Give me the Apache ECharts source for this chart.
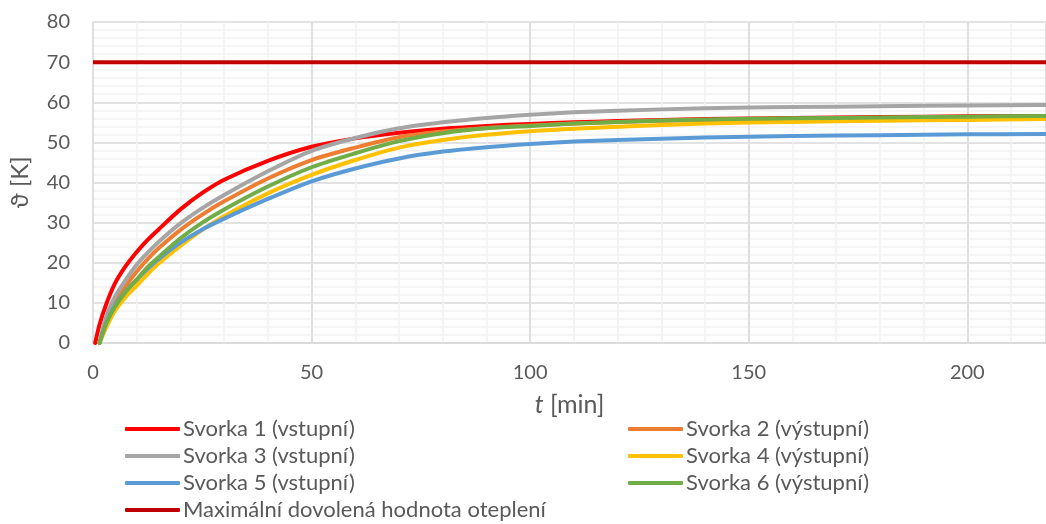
<!DOCTYPE html>
<html>
<head>
<meta charset="utf-8">
<script src="https://cdn.jsdelivr.net/npm/echarts@6/dist/echarts.min.js"></script>
<style>html,body{margin:0;padding:0;background:#fff}#c{width:1046px;height:524px}</style>
</head>
<body>
<div id="c"></div>
<script>
// time in minutes
const time    = [0.5, 1.5, 3,   5,    7.5,  10,   12.5, 15,   20,   25,   30,   40,   50,   60,   70,   80,   90,   100,  110,  120,  140,  160,  180,  200,  218];
const svorka1 = [0,   4.6, 9.6, 14.8, 19.2, 22.7, 25.7, 28.3, 33.3, 37.4, 40.7, 45.4, 48.9, 51.0, 52.4, 53.4, 54.1, 54.6, 55.0, 55.3, 55.8, 56.1, 56.3, 56.5, 56.6];
const svorka2 = [null, 0,  5.5, 10.0, 14.2, 17.8, 20.9, 23.6, 28.2, 32.0, 35.3, 41.0, 45.6, 48.7, 51.3, 52.7, 53.6, 54.2, 54.7, 55.1, 55.6, 55.9, 56.1, 56.3, 56.5];
const svorka3 = [null, 0,  6.5, 11.5, 15.8, 19.5, 22.5, 25.2, 29.8, 33.6, 36.9, 42.8, 47.9, 51.1, 53.5, 55.0, 56.1, 56.9, 57.5, 57.9, 58.5, 58.8, 59.0, 59.2, 59.3];
const svorka4 = [null, 0,  3.8, 8.0,  11.5, 14.3, 17.2, 19.8, 24.2, 28.2, 31.6, 37.3, 41.9, 45.6, 48.7, 50.6, 51.9, 52.8, 53.4, 53.9, 54.7, 55.1, 55.4, 55.6, 55.8];
const svorka5 = [null, 0,  5.0, 9.3,  12.9, 15.8, 18.5, 20.9, 25.0, 28.3, 31.0, 35.9, 40.3, 43.5, 46.0, 47.7, 48.8, 49.6, 50.2, 50.6, 51.2, 51.6, 51.8, 52.0, 52.1];
const svorka6 = [null, 0,  4.8, 9.0,  12.8, 15.8, 18.9, 21.4, 26.1, 30.0, 33.3, 39.0, 43.8, 47.3, 50.3, 52.3, 53.5, 54.1, 54.7, 55.1, 55.7, 56.0, 56.2, 56.4, 56.6];
const maxTime = [0, 218];
const maxAllowed = 70;

const names = ['Svorka 1 (vstupní)', 'Svorka 2 (výstupní)', 'Svorka 3 (vstupní)', 'Svorka 4 (výstupní)', 'Svorka 5 (vstupní)', 'Svorka 6 (výstupní)', 'Maximální dovolená hodnota oteplení'];
const colors = ['#FF0000', '#ED7D31', '#A5A5A5', '#FFC000', '#5B9BD5', '#70AD47', '#C00000'];
const yTicks = {min: 0, max: 80, interval: 10};
const xTicks = {min: 0, max: 218, interval: 50, minorInterval: 10};

const FONT = 'Lato';
const TXT = '#595959';
const pair = (vals) => time.map((t, i) => [t, vals[i]]);
const seriesVals = [svorka1, svorka2, svorka3, svorka4, svorka5, svorka6];

const series = seriesVals.map((v, i) => ({
  name: names[i], type: 'line', xAxisIndex: 0, data: pair(v), smooth: 0.3,
  showSymbol: false, symbol: 'none', lineStyle: {color: colors[i], width: 4, cap: 'round', join: 'round'},
  itemStyle: {color: colors[i]}, animation: false
}));
series.push({
  name: names[6], type: 'line', xAxisIndex: 0, data: maxTime.map(t => [t, maxAllowed]),
  showSymbol: false, symbol: 'none', lineStyle: {color: colors[6], width: 4},
  itemStyle: {color: colors[6]}, animation: false
});

const legendCommon = {
  orient: 'vertical', icon: 'roundRect', itemWidth: 55, itemHeight: 4, itemGap: 5, padding: 0, height: 110,
  textStyle: {fontFamily: FONT, fontSize: 22, color: TXT, lineHeight: 22, padding: [0, 0, 0, -2]}
};

const chart = echarts.init(document.getElementById('c'), null, {renderer: 'canvas'});
chart.setOption({
  animation: false,
  textStyle: {fontFamily: FONT},
  grid: {left: 91, right: 0, top: 22, bottom: 181, containLabel: false},
  legend: [
    Object.assign({left: 125, top: 418, data: [names[0], names[2], names[4], names[6]]}, legendCommon),
    Object.assign({left: 628, top: 418, data: [names[1], names[3], names[5]]}, legendCommon)
  ],
  xAxis: [
    {
      type: 'value', min: xTicks.min, max: xTicks.max, interval: xTicks.interval,
      name: '{i|t} [min]', nameLocation: 'middle', nameGap: 49,
      nameTextStyle: {fontFamily: FONT, fontSize: 25, color: TXT, rich: {i: {fontStyle: 'italic', fontFamily: FONT, fontSize: 25, color: TXT}}},
      axisLine: {show: true, lineStyle: {color: '#D9D9D9', width: 1.5}},
      axisTick: {show: false},
      axisLabel: {fontFamily: FONT, fontSize: 20, color: TXT, margin: 20, showMaxLabel: false},
      splitLine: {show: true, lineStyle: {color: '#D9D9D9', width: 1.5}},
      z: 2
    },
    {
      type: 'value', min: xTicks.min, max: xTicks.max, interval: xTicks.minorInterval,
      position: 'bottom', show: true,
      axisLine: {show: false}, axisTick: {show: false}, axisLabel: {show: false},
      splitLine: {show: true, lineStyle: {color: '#F2F2F2', width: 1.5}},
      z: 1
    }
  ],
  yAxis: {
    type: 'value', min: yTicks.min, max: yTicks.max, interval: yTicks.interval,
    name: 'ϑ [K]', nameLocation: 'middle', nameGap: 61, nameRotate: 90,
    nameTextStyle: {fontFamily: FONT, fontSize: 24, color: TXT},
    axisLine: {show: false}, axisTick: {show: false},
    axisLabel: {fontFamily: FONT, fontSize: 20, color: TXT, margin: 23},
    splitLine: {show: true, lineStyle: {color: '#D9D9D9', width: 1.5}},
    minorTick: {show: false, splitNumber: 5},
    minorSplitLine: {show: true, lineStyle: {color: '#F2F2F2', width: 1.5}}
  },
  series: series
});
</script>
</body>
</html>
